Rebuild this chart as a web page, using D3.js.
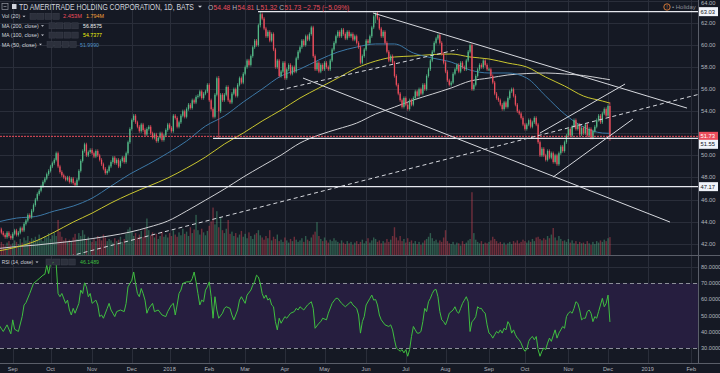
<!DOCTYPE html>
<html>
<head>
<meta charset="utf-8">
<script src="https://cdn.jsdelivr.net/npm/d3@7"></script>
<style>
html, body { margin: 0; padding: 0; background: #151924; }
svg { display: block; font-family: "Liberation Sans", Arial, sans-serif; }
</style>
</head>
<body>
<svg id="chart" width="720" height="373"></svg>
<script>
// daily closes, 22 Aug 2017 .. 4 Dec 2018
var closes = [
  43.5, 43.3, 43.0, 42.8, 42.6, 43.0, 42.7, 42.5, 42.9, 43.2,
  42.8, 43.0, 43.4, 43.2, 43.8, 44.1, 44.6, 44.4, 45.0, 45.5,
  46.0, 46.5, 46.8, 47.2, 47.6, 47.9, 48.3, 48.6, 49.0, 49.3,
  49.6, 50.2, 49.0, 48.5, 48.2, 48.0, 47.8, 48.0, 47.6, 47.9,
  47.5, 47.3, 47.8, 48.6, 49.5, 50.4, 51.0, 50.0, 50.3, 50.5,
  50.2, 49.9, 50.4, 50.0, 49.6, 49.2, 48.8, 48.4, 48.6, 49.0,
  49.4, 49.8, 49.3, 49.6, 49.0, 49.5, 49.8, 49.4, 50.2, 51.2,
  52.4, 53.2, 53.6, 53.0, 52.6, 52.2, 52.8, 52.3, 51.9, 52.4,
  52.6, 52.0, 51.6, 51.9, 51.3, 51.6, 52.0, 51.4, 51.8, 52.3,
  52.8, 52.5, 52.2, 53.6, 53.4, 52.6, 53.0, 53.6, 54.0, 53.5,
  54.2, 54.6, 54.3, 55.0, 54.8, 55.3, 55.4, 55.8, 55.2, 55.6,
  55.8, 56.4, 55.0, 54.2, 53.5, 55.5, 57.0, 54.0, 55.5, 55.0,
  55.5, 56.2, 55.0, 54.8, 55.6, 56.0, 55.4, 56.4, 57.0, 56.6,
  57.4, 58.0, 58.6, 58.2, 59.0, 59.8, 60.4, 60.0, 61.8, 62.8,
  62.4, 61.5, 60.8, 61.2, 60.4, 61.0, 59.6, 58.0, 58.6, 57.2,
  57.6, 58.4, 57.0, 57.8, 58.2, 57.4, 58.0, 57.6, 58.8, 59.4,
  59.8, 60.4, 60.0, 60.8, 60.5, 61.0, 61.6, 59.0, 57.8, 58.4,
  57.6, 58.2, 57.8, 58.4, 58.0, 57.8, 58.6, 59.6, 60.2, 60.8,
  61.2, 60.8, 61.4, 61.0, 60.6, 61.2, 60.8, 61.0, 60.5, 60.8,
  60.2, 59.8, 58.4, 59.0, 59.6, 60.4, 60.2, 60.8, 61.6, 62.6,
  62.9, 62.4, 61.5, 60.8, 61.2, 60.2, 59.4, 58.6, 59.0, 58.4,
  57.2, 56.4, 55.6, 55.0, 54.4, 55.2, 54.6, 54.2, 55.0, 54.6,
  55.2, 55.8, 55.4, 56.0, 55.6, 56.4, 56.0, 57.2, 57.8, 58.6,
  59.4, 60.2, 60.6, 60.9, 60.2, 59.2, 58.4, 57.6, 56.8, 56.4,
  56.6, 57.4, 57.8, 58.2, 57.6, 58.4, 58.0, 57.8, 58.6, 59.4,
  60.0, 56.0, 56.4, 57.2, 57.8, 58.2, 58.0, 58.6, 58.2, 57.8,
  57.8, 57.2, 56.6, 55.6, 55.2, 55.0, 54.6, 54.2, 54.8, 54.4,
  55.2, 55.8, 56.0, 55.4, 54.6, 54.0, 53.8, 53.4, 52.8, 52.4,
  52.8, 53.2, 52.6, 53.0, 53.4, 52.8, 51.2, 50.0, 50.6, 50.0,
  49.6, 50.4, 49.8, 50.2, 49.4, 50.0, 49.2, 50.2, 50.8, 50.4,
  51.2, 51.8, 52.4, 51.8, 52.6, 53.2, 52.4, 52.8, 51.9, 52.5,
  52.0, 52.8, 51.8, 52.4, 51.6, 52.2, 52.6, 53.2, 53.6, 53.0,
  53.8, 54.2, 53.6, 54.48, 51.73
]
var firstOpen = 43.7
// bars with a visible long wick: index, high, low
var wickBars = [117, 139, 200, 324]
var wickHighs = [57.2, 63.03, 62.95, 54.81]
var wickLows = [51.5, 61.6, 62.0, 51.32]

// volume, millions
var volumes = [
  1.6, 1.4, 1.8, 1.5, 1.3, 1.7, 1.9, 1.4, 1.6, 2.0,
  1.8, 1.5, 2.2, 1.7, 2.4, 2.0, 2.6, 1.9, 2.3, 2.1,
  2.5, 2.0, 2.8, 2.2, 1.9, 2.6, 2.4, 3.0, 2.2, 2.7,
  3.1, 2.6, 4.8, 3.2, 2.5, 2.0, 2.3, 1.8, 2.1, 1.9,
  2.4, 2.9, 2.2, 3.0, 2.6, 3.4, 2.8, 2.1, 2.5, 2.0,
  1.8, 2.2, 1.9, 2.6, 2.3, 2.0, 2.8, 2.4, 1.9, 2.2,
  2.0, 1.7, 2.3, 1.9, 2.1, 2.5, 1.8, 2.2, 2.9, 3.5,
  3.8, 3.2, 2.6, 3.0, 2.4, 2.8, 3.3, 2.5, 3.6, 5.0,
  3.4, 2.7, 3.1, 2.4, 2.9, 2.2, 2.6, 3.2, 2.5, 2.8,
  2.4, 3.0, 2.6, 3.4, 2.8, 2.5, 3.1, 2.7, 3.6, 2.9,
  3.2, 2.6, 3.8, 3.0, 3.5, 5.5, 3.4, 2.8, 3.6, 3.1,
  2.7, 3.3, 4.0, 4.6, 6.5, 4.2, 6.0, 3.8, 5.2, 3.4,
  3.0, 3.6, 4.8, 2.9, 3.2, 2.6, 3.0, 2.4, 2.8, 3.3,
  2.5, 2.9, 2.3, 3.1, 2.6, 2.2, 2.8, 3.0, 3.4, 2.7,
  2.4, 2.1, 2.6, 2.3, 3.4, 2.0, 2.5, 2.2, 2.8, 1.9,
  2.1, 1.8, 2.4, 2.0, 1.7, 2.2, 1.9, 2.5, 2.1, 1.8,
  2.0, 2.3, 1.8, 2.6, 2.1, 1.9, 2.4, 2.8, 3.2, 4.5,
  2.6, 2.2, 1.9, 2.4, 2.0, 1.7, 2.1, 1.9, 2.3, 2.0,
  1.8, 1.6, 2.0, 1.7, 1.5, 1.9, 1.6, 1.8, 1.4, 1.7,
  1.9, 1.5, 1.8, 2.1, 1.6, 1.9, 2.3, 1.7, 2.0, 2.4,
  2.2, 1.8, 2.0, 1.6, 1.9, 1.7, 2.2, 1.8, 2.1, 2.6,
  3.8, 2.4, 2.0, 2.6, 1.9, 2.2, 1.7, 2.3, 1.8, 2.0,
  1.6, 1.9, 1.5, 1.8, 1.4, 1.7, 2.0, 2.2, 2.5, 3.0,
  2.3, 1.9, 2.1, 1.7, 2.0, 1.8, 2.4, 3.4, 1.9, 1.6,
  1.5, 1.8, 1.4, 1.7, 1.6, 1.3, 1.9, 1.5, 1.7, 2.0,
  2.2, 8.6, 3.0, 2.1, 1.8, 1.6, 1.9, 1.5, 1.7, 1.6,
  1.8, 2.0, 2.5, 2.2, 1.9, 1.6, 1.8, 1.5, 1.7, 1.4,
  1.6, 1.8, 1.5, 1.9, 1.7, 2.0, 1.6, 1.8, 2.1, 1.9,
  1.7, 2.0, 1.8, 2.2, 1.9, 2.4, 2.5, 2.2, 2.0, 2.3,
  2.1, 2.6, 2.3, 2.8, 3.7, 2.4, 2.0, 2.6, 2.2, 1.9,
  2.0, 1.8, 2.2, 1.7, 2.0, 1.6, 1.9, 1.5, 1.8, 1.6,
  1.7, 1.5, 1.9, 1.6, 1.4, 1.8, 1.5, 1.9, 1.7, 2.0,
  1.8, 2.1, 1.9, 2.3, 2.45
]

// moving averages read at every 10th bar
var maBars = [0, 10, 20, 30, 40, 50, 60, 70, 80, 90, 100, 110, 120, 130, 140, 150, 160,
  170, 180, 190, 200, 210, 220, 230, 240, 250, 260, 270, 280, 290, 300, 310, 320, 324]
var ma50 = [43.96, 44.32, 44.46, 44.96, 45.41, 46.13, 47.22, 48.31, 49.22, 50.21, 51.30,
  52.66, 53.57, 54.84, 56.02, 57.20, 57.83, 58.65, 59.37, 59.82, 60.10, 60.10, 59.28,
  58.83, 58.46, 57.74, 57.47, 57.47, 57.01, 55.38, 53.75, 52.57, 52.03, 52.00]
var ma100 = [41.33, 41.69, 42.23, 43.05, 43.96, 44.77, 45.69, 46.50, 47.22, 47.95, 48.85,
  49.85, 51.03, 52.03, 53.12, 54.11, 55.20, 56.11, 57.01, 57.92, 58.55, 58.92, 59.01,
  59.14, 59.19, 58.92, 58.74, 58.37, 58.01, 57.10, 56.29, 55.38, 54.93, 54.74]
var ma200 = [41.56, 41.74, 41.87, 42.05, 42.23, 42.46, 42.73, 43.05, 43.50, 44.05, 44.96,
  45.95, 46.95, 48.04, 49.04, 50.03, 51.12, 51.85, 52.39, 52.93, 53.75, 54.38, 55.02,
  55.56, 56.11, 56.74, 57.01, 57.29, 57.42, 57.47, 57.38, 57.24, 56.97, 56.86]

// RSI(14) turning points
var rsiBars = [1, 3, 5, 7, 8, 9, 11, 13, 14, 15, 17, 19, 22, 24, 25, 26, 27, 28, 30, 31,
  32, 33, 34, 36, 37, 38, 39, 40, 41, 43, 44, 45, 46, 47, 48, 49, 50, 52, 53, 54,
  55, 56, 58, 59, 60, 61, 62, 63, 65, 67, 68, 69, 71, 72, 73, 74, 75, 76, 77, 78,
  79, 80, 82, 83, 85, 87, 89, 90, 92, 93, 94, 95, 96, 97, 98, 100, 102, 103, 104, 105,
  106, 107, 108, 109, 110, 111, 112, 113, 114, 115, 116, 117, 119, 120, 121, 123, 124, 125, 126, 127,
  128, 129, 131, 132, 134, 135, 136, 137, 138, 139, 140, 141, 142, 143, 144, 145, 146, 147, 148, 149,
  150, 151, 152, 153, 155, 157, 158, 159, 160, 162, 164, 166, 167, 168, 170, 171, 172, 174, 175, 177,
  179, 180, 182, 184, 186, 187, 188, 190, 191, 192, 193, 194, 195, 197, 198, 199, 200, 201, 202, 203,
  205, 207, 208, 209, 210, 211, 212, 213, 214, 215, 216, 217, 218, 219, 220, 221, 222, 223, 224, 225,
  226, 227, 228, 229, 230, 231, 232, 233, 234, 235, 236, 237, 238, 239, 241, 242, 243, 244, 245, 246,
  247, 248, 249, 250, 251, 252, 253, 254, 255, 256, 257, 258, 259, 260, 261, 262, 263, 264, 265, 266,
  267, 268, 269, 270, 271, 272, 273, 274, 275, 276, 277, 278, 279, 280, 281, 282, 283, 284, 285, 286,
  287, 288, 289, 290, 291, 292, 293, 294, 295, 296, 297, 298, 299, 300, 301, 302, 303, 304, 305, 306,
  307, 308, 309, 310, 311, 312, 313, 314, 315, 316, 317, 318, 319, 320, 321, 322, 323, 324]
var rsiValues = [43.7, 40.2, 44.3, 38.8, 47.4, 41.6, 40.2, 49.4, 56.6, 58.0, 63.7, 69.9, 72.9, 75.0, 75.6, 81.1, 76.0, 82.1, 83.1, 82.1,
  63.7, 61.7, 63.7, 57.6, 59.6, 53.5, 50.4, 54.5, 51.5, 57.6, 65.8, 63.7, 70.3, 67.8, 61.7, 63.7, 57.6, 59.6, 56.6, 49.4,
  50.4, 48.4, 54.5, 57.6, 53.5, 51.5, 49.4, 52.5, 53.5, 52.5, 57.6, 67.8, 71.9, 77.0, 69.9, 63.7, 61.7, 66.8, 63.7, 59.6,
  51.5, 54.5, 57.6, 52.5, 53.5, 50.4, 49.4, 52.5, 56.6, 57.6, 50.4, 56.6, 63.7, 65.8, 69.9, 70.9, 70.9, 72.9, 77.0, 70.9,
  63.7, 56.6, 59.6, 58.6, 65.8, 67.8, 70.9, 61.7, 48.4, 61.7, 53.5, 48.4, 51.5, 54.5, 55.5, 54.5, 50.4, 47.4, 50.4, 53.5,
  59.6, 61.7, 57.6, 62.7, 65.8, 68.8, 70.9, 75.0, 73.9, 69.9, 63.7, 60.7, 62.7, 59.6, 60.7, 56.6, 55.5, 46.3, 41.2, 48.4,
  45.3, 47.4, 49.4, 48.4, 51.5, 52.5, 54.5, 53.5, 55.5, 53.5, 56.6, 58.6, 54.5, 42.2, 45.3, 46.3, 48.4, 47.4, 51.5, 57.6,
  60.7, 60.7, 57.6, 55.5, 57.6, 58.6, 56.6, 54.5, 50.4, 39.2, 46.3, 49.4, 56.6, 60.7, 62.7, 59.6, 60.0, 56.6, 50.4, 47.4,
  44.3, 43.3, 44.3, 41.2, 35.1, 30.0, 29.0, 28.0, 29.0, 27.0, 29.0, 24.9, 29.0, 37.1, 43.3, 41.2, 39.2, 39.2, 40.2, 46.3,
  54.5, 52.5, 58.6, 60.7, 63.7, 65.8, 66.2, 61.7, 52.5, 47.4, 46.3, 44.3, 47.4, 51.5, 53.5, 55.5, 52.5, 51.5, 54.5, 57.6,
  59.6, 61.7, 58.6, 40.2, 46.3, 47.4, 49.4, 55.5, 54.5, 54.5, 52.5, 51.5, 44.3, 39.2, 38.2, 36.1, 38.2, 40.2, 39.2, 41.2,
  39.2, 42.2, 41.2, 46.3, 44.3, 39.2, 41.2, 38.2, 36.1, 35.1, 33.0, 30.0, 28.0, 29.0, 34.1, 36.1, 37.1, 35.1, 37.1, 29.0,
  24.9, 28.0, 30.0, 29.0, 33.0, 36.1, 34.1, 37.6, 41.2, 36.1, 39.2, 41.2, 43.3, 42.2, 49.4, 51.5, 52.5, 51.5, 54.5, 58.6,
  57.6, 53.5, 47.4, 48.4, 48.4, 52.5, 53.5, 51.5, 46.3, 49.4, 48.4, 52.5, 56.6, 60.7, 55.5, 57.6, 62.7, 46.1]

var priceTicks = [64, 62, 60, 58, 56, 54, 50, 48, 46, 44, 42]
var rsiTicks = [80, 70, 60, 50, 40, 30]
var rsiGrid = [80, 60, 50, 40]
var levels = [63.03, 51.55, 47.17]
var levelFrom = [137.8, 114, 0]
// drawn trend lines: bar, price -> bar, price, dashed
var trendlines = [
  [198.6, 62.91, 364.8, 54.29, false],
  [161.6, 57.01, 355.8, 43.96, false],
  [38.3, 40.88, 370.6, 55.52, true],
  [149.4, 55.93, 243.6, 59.60, true],
  [287.0, 52.03, 332.0, 56.47, false],
  [293.9, 48.04, 336.2, 53.30, false]
]
var holidays = ['2017-09-04', '2017-11-23', '2017-12-25', '2018-01-01', '2018-01-15',
  '2018-02-19', '2018-03-30', '2018-05-28', '2018-07-04', '2018-09-03', '2018-11-22']

var lastPrice = 51.73
var upColor = '#53b987'
var downColor = '#eb4d5c'
var grid = '#2a2e3a'
var axisText = '#b2b5be'

var plotR = 698, mainB = 255, rsiT = 256, rsiB = 363

var x = d3.scaleLinear().domain([0, 370.6]).range([-2.4, 698])
var y = d3.scaleLinear().domain([42, 62]).range([243.7, 23])
var yVol = d3.scaleLinear().domain([0, 10]).range([255, 182])
var yRsi = d3.scaleLinear().domain([30, 70]).range([348, 283.3])

// trading calendar, weekdays after the last bar count as sessions
var fmt = d3.timeFormat('%Y-%m-%d')
var dates = []
var d = new Date(2017, 7, 22)
while (dates.length < 372) {
  var wd = d.getDay()
  if (wd !== 0 && wd !== 6 && holidays.indexOf(fmt(d)) < 0) dates.push(new Date(d))
  d.setDate(d.getDate() + 1)
}
var monthTicks = []
for (var i = 1; i < dates.length; i++) {
  if (dates[i].getMonth() !== dates[i - 1].getMonth() && x(i) < plotR) {
    monthTicks.push({ i: i, label: dates[i].getMonth() === 0 ? d3.timeFormat('%Y')(dates[i]) : d3.timeFormat('%b')(dates[i]) })
  }
}

var svg = d3.select('#chart')
svg.append('rect').attr('width', 720).attr('height', 373).attr('fill', '#151924')

var defs = svg.append('defs')
defs.append('clipPath').attr('id', 'mainClip')
  .append('rect').attr('x', 0).attr('y', 0).attr('width', plotR).attr('height', mainB)
defs.append('clipPath').attr('id', 'rsiClip')
  .append('rect').attr('x', 0).attr('y', rsiT).attr('width', plotR).attr('height', rsiB - rsiT)

// grid
var gridG = svg.append('g').attr('shape-rendering', 'crispEdges')
gridG.selectAll('.vg').data(monthTicks).enter().append('line')
  .attr('x1', function (t) { return Math.round(x(t.i)) + 0.5 })
  .attr('x2', function (t) { return Math.round(x(t.i)) + 0.5 })
  .attr('y1', 0).attr('y2', rsiB)
  .attr('stroke', grid)
gridG.selectAll('.hg').data(d3.range(42, 65, 2)).enter().append('line')
  .attr('x1', 0).attr('x2', plotR)
  .attr('y1', function (p) { return Math.round(y(p)) + 0.5 })
  .attr('y2', function (p) { return Math.round(y(p)) + 0.5 })
  .attr('stroke', grid)

// RSI band
svg.append('rect')
  .attr('x', 0).attr('y', yRsi(70)).attr('width', plotR).attr('height', yRsi(30) - yRsi(70))
  .attr('fill', '#261e3f')
gridG.selectAll('.rg').data(rsiGrid).enter().append('line')
  .attr('x1', 0).attr('x2', plotR)
  .attr('y1', function (r) { return Math.round(yRsi(r)) + 0.5 })
  .attr('y2', function (r) { return Math.round(yRsi(r)) + 0.5 })
  .attr('stroke', grid)
svg.selectAll('.rd').data([70, 30]).enter().append('line')
  .attr('x1', 0).attr('x2', plotR)
  .attr('y1', function (r) { return Math.round(yRsi(r)) + 0.5 })
  .attr('y2', function (r) { return Math.round(yRsi(r)) + 0.5 })
  .attr('stroke', '#8c8f99').attr('stroke-dasharray', '4,3')

// bars
var bars = closes.map(function (c, i) {
  var o = i === 0 ? firstOpen : closes[i - 1]
  var w = wickBars.indexOf(i)
  return {
    i: i, o: o, c: c,
    h: w >= 0 ? wickHighs[w] : Math.max(o, c) + 0.15,
    l: w >= 0 ? wickLows[w] : Math.min(o, c) - 0.15,
    v: volumes[i]
  }
})

var main = svg.append('g').attr('clip-path', 'url(#mainClip)')

main.selectAll('.vol').data(bars).enter().append('rect')
  .attr('x', function (b) { return x(b.i) - 0.7 })
  .attr('width', 1.4)
  .attr('y', function (b) { return yVol(b.v) })
  .attr('height', function (b) { return yVol(0) - yVol(b.v) })
  .attr('fill', function (b) { return b.c >= b.o ? upColor : downColor })
  .attr('fill-opacity', 0.42)

// moving averages
var maLine = function (vals) {
  return d3.line()
    .x(function (v, j) { return x(maBars[j]) })
    .y(function (v) { return y(v) })
    .curve(d3.curveMonotoneX)(vals)
}
main.append('path').attr('d', maLine(ma200)).attr('fill', 'none').attr('stroke', '#cfd0d4').attr('stroke-width', 1)
main.append('path').attr('d', maLine(ma100)).attr('fill', 'none').attr('stroke', '#c9c62f').attr('stroke-width', 1)
main.append('path').attr('d', maLine(ma50)).attr('fill', 'none').attr('stroke', '#3c78a6').attr('stroke-width', 1)

// candles
main.selectAll('.wick').data(bars).enter().append('line')
  .attr('x1', function (b) { return x(b.i) }).attr('x2', function (b) { return x(b.i) })
  .attr('y1', function (b) { return y(b.h) }).attr('y2', function (b) { return y(b.l) })
  .attr('stroke', function (b) { return b.c >= b.o ? upColor : downColor })
  .attr('stroke-width', 0.7)
main.selectAll('.body').data(bars).enter().append('rect')
  .attr('x', function (b) { return x(b.i) - 0.65 })
  .attr('width', 1.3)
  .attr('y', function (b) { return y(Math.max(b.o, b.c)) })
  .attr('height', function (b) { return Math.max(1, Math.abs(y(b.o) - y(b.c))) })
  .attr('fill', function (b) { return b.c >= b.o ? upColor : downColor })

// horizontal levels
main.selectAll('.lvl').data(levels).enter().append('line')
  .attr('x1', function (p, j) { return x(levelFrom[j]) }).attr('x2', plotR)
  .attr('y1', function (p) { return y(p) }).attr('y2', function (p) { return y(p) })
  .attr('stroke', '#e6e8ee').attr('stroke-width', 1.2)
main.append('line')
  .attr('x1', 0).attr('x2', plotR).attr('y1', y(lastPrice)).attr('y2', y(lastPrice))
  .attr('stroke', downColor).attr('stroke-width', 1).attr('stroke-dasharray', '2,1')

// trend lines
main.selectAll('.tl').data(trendlines).enter().append('line')
  .attr('x1', function (t) { return x(t[0]) }).attr('y1', function (t) { return y(t[1]) })
  .attr('x2', function (t) { return x(t[2]) }).attr('y2', function (t) { return y(t[3]) })
  .attr('stroke', '#d6d8de').attr('stroke-width', 1)
  .attr('stroke-dasharray', function (t) { return t[4] ? '4,3' : null })

// RSI line
var rsiPath = d3.line()
  .x(function (r, j) { return x(rsiBars[j]) })
  .y(function (r) { return yRsi(r) })
svg.append('g').attr('clip-path', 'url(#rsiClip)')
  .append('path').attr('d', rsiPath(rsiValues))
  .attr('fill', 'none').attr('stroke', '#3fbf3f').attr('stroke-width', 1)

// panel borders
var borders = svg.append('g').attr('shape-rendering', 'crispEdges').attr('stroke', '#5a5e69')
borders.append('line').attr('x1', 0).attr('x2', 720).attr('y1', mainB + 0.5).attr('y2', mainB + 0.5)
borders.append('line').attr('x1', 0).attr('x2', 720).attr('y1', rsiB + 0.5).attr('y2', rsiB + 0.5)
borders.append('line').attr('x1', plotR + 0.5).attr('x2', plotR + 0.5).attr('y1', 0).attr('y2', rsiB)

// price axis
svg.selectAll('.pt').data(priceTicks).enter().append('text')
  .attr('x', 701).attr('y', function (p) { return Math.max(y(p) + 2, 5) })
  .attr('fill', axisText).attr('font-size', 5.8)
  .text(function (p) { return p.toFixed(2) })
svg.selectAll('.rt').data(rsiTicks).enter().append('text')
  .attr('x', 701).attr('y', function (r) { return yRsi(r) + 2 })
  .attr('fill', axisText).attr('font-size', 5.6)
  .text(function (r) { return r.toFixed(4) })

// price tags
var tags = [
  { p: 63.03, cy: y(63.03), bg: '#f0f3fa', fg: '#131722' },
  { p: 51.73, cy: y(51.73), bg: downColor, fg: '#ffffff' },
  { p: 51.55, cy: y(51.73) + 8, bg: '#f0f3fa', fg: '#131722' },
  { p: 47.17, cy: y(47.17), bg: '#f0f3fa', fg: '#131722' }
]
var tagG = svg.selectAll('.tag').data(tags).enter().append('g')
tagG.append('rect')
  .attr('x', 699).attr('y', function (t) { return t.cy - 4.5 })
  .attr('width', 19).attr('height', 9)
  .attr('fill', function (t) { return t.bg })
tagG.append('text')
  .attr('x', 700.5).attr('y', function (t) { return t.cy + 2 })
  .attr('fill', function (t) { return t.fg }).attr('font-size', 5.8)
  .text(function (t) { return t.p.toFixed(2) })

// time axis
svg.selectAll('.tt').data(monthTicks).enter().append('text')
  .attr('x', function (t) { return x(t.i) }).attr('y', 371)
  .attr('text-anchor', 'middle')
  .attr('fill', axisText).attr('font-size', 5.6)
  .text(function (t) { return t.label })

// little dropdown caret drawn as a path
var caret = function (g, cx, cy, s) {
  g.append('path')
    .attr('d', 'M' + (cx - s) + ',' + (cy - s / 2) + 'L' + (cx + s) + ',' + (cy - s / 2) + 'L' + cx + ',' + (cy + s / 2) + 'Z')
    .attr('fill', '#d1d4dc')
}

// header
var head = svg.append('g')
head.append('rect').attr('x', 2).attr('y', 3.5).attr('width', 6).attr('height', 6)
  .attr('fill', 'none').attr('stroke', '#9598a1').attr('stroke-width', 0.7)
head.append('line').attr('x1', 3.5).attr('x2', 6.5).attr('y1', 6.5).attr('y2', 6.5)
  .attr('stroke', '#9598a1').attr('stroke-width', 0.7)
head.append('rect').attr('x', 12).attr('y', 4).attr('width', 4.5).attr('height', 5).attr('fill', '#d1d4dc')
// title squeezed horizontally, the chart font is narrower than Liberation Sans
var title = head.append('g').attr('transform', 'translate(19,9.7)')
var titleText = title.append('text').attr('x', 0).attr('y', 0)
  .attr('fill', '#d1d4dc').attr('font-size', 8.2)
  .text('TD AMERITRADE HOLDING CORPORATION, 1D, BATS')
title.attr('transform', 'translate(19,9.7) scale(' + (175 / titleText.node().getComputedTextLength()) + ',1)')
caret(head, 200, 6.8, 2)

// O H L C readout, one text per piece laid out left to right
var ohlcParts = [['O', axisText], ['54.48', downColor], ['H', axisText], ['54.81', downColor],
  ['L', axisText], ['51.32', downColor], ['C', axisText], ['51.73', downColor], ['−2.75 (−5.09%)', downColor]]
var ox = 208
ohlcParts.forEach(function (pp, j) {
  var t = head.append('text').attr('x', ox).attr('y', 9.5)
    .attr('font-size', 6.7).attr('fill', pp[1]).text(pp[0])
  ox += t.node().getComputedTextLength() + (j % 2 === 1 ? 2 : 0.4)
})

// legend rows
var legendRows = [
  { name: 'Vol (20)', w: 18.5, cy: 16.3, bx: 30, vals: [['2.453M', downColor, 63, 19], ['1.794M', '#f7a13a', 86, 18]] },
  { name: 'MA (200, close)', w: 37, cy: 25.8, bx: 49, vals: [['56.8575', '#f0f0f0', 83, 19]] },
  { name: 'MA (100, close)', w: 37, cy: 35.1, bx: 49, vals: [['54.7377', '#f2f20a', 83, 19]] },
  { name: 'MA (50, close)', w: 35, cy: 44.4, bx: 47, vals: [['51.9990', '#4e8fc6', 80, 19]] },
  { name: 'RSI (14, close)', w: 31.5, cy: 262, bx: 46, vals: [['46.1489', '#3fbf3f', 80, 19]] }
]
legendRows.forEach(function (row) {
  var g = svg.append('g')
  g.append('text').attr('x', 1.7).attr('y', row.cy + 2.1)
    .attr('fill', '#d1d4dc').attr('font-size', 6)
    .attr('textLength', row.w).attr('lengthAdjust', 'spacingAndGlyphs')
    .text(row.name)
  caret(g, row.w + 5.5, row.cy + 0.2, 1.5)
  for (var k = 0; k < 4; k++) {
    g.append('rect').attr('x', row.bx + k * 7.6).attr('y', row.cy - 3)
      .attr('width', 6.4).attr('height', 6)
      .attr('fill', '#2c303c').attr('stroke', '#3d414d').attr('stroke-width', 0.5)
  }
  row.vals.forEach(function (v) {
    g.append('text').attr('x', v[2]).attr('y', row.cy + 2.1)
      .attr('fill', v[1]).attr('font-size', 6)
      .attr('textLength', v[3]).attr('lengthAdjust', 'spacingAndGlyphs')
      .text(v[0])
  })
})

// holiday marker
svg.append('circle').attr('cx', 667).attr('cy', 7).attr('r', 3.2)
  .attr('fill', 'none').attr('stroke', '#e3813a').attr('stroke-width', 0.9)
svg.append('text').attr('x', 667).attr('y', 9).attr('text-anchor', 'middle')
  .attr('fill', '#e3813a').attr('font-size', 5).text('!')
svg.append('text').attr('x', 672).attr('y', 9.2)
  .attr('fill', '#8c8f99').attr('font-size', 6).text('• Holiday')
</script>
</body>
</html>
